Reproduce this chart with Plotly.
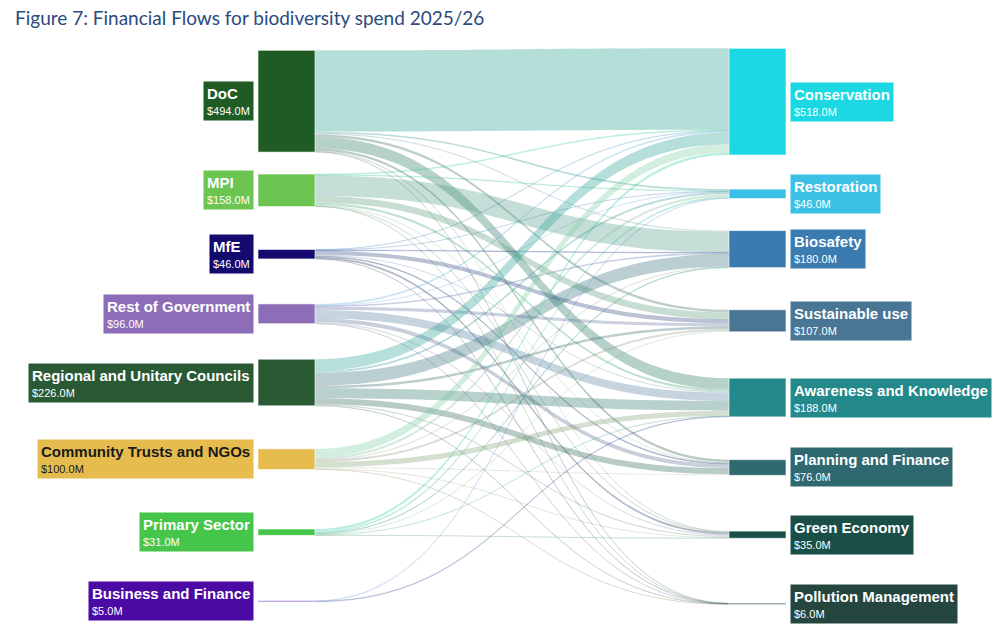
import plotly.graph_objects as go

# ---------------- data ----------------
sources = ["DoC", "MPI", "MfE", "Rest of Government", "Regional and Unitary Councils",
           "Community Trusts and NGOs", "Primary Sector", "Business and Finance"]
targets = ["Conservation", "Restoration", "Biosafety", "Sustainable use",
           "Awareness and Knowledge", "Planning and Finance", "Green Economy",
           "Pollution Management"]

# flows from each source to targets (same order as `targets`), $M
flow_doc       = [395, 8, 6, 12, 55, 12, 5, 1]
flow_mpi       = [4, 3, 100, 33, 10, 5, 2, 1]
flow_mfe       = [2, 1, 3, 20, 5, 4, 10, 1]
flow_rog       = [8, 2, 4, 15, 40, 20, 6, 1]
flow_regional  = [57, 10, 62, 12, 48, 30, 6, 1]
flow_community = [40, 12, 2, 10, 25, 5, 5, 1]
flow_primary   = [12, 8, 3, 5, 2, 0, 1, 0]
flow_business  = [0, 2, 0, 0, 3, 0, 0, 0]

flows = [flow_doc, flow_mpi, flow_mfe, flow_rog, flow_regional,
         flow_community, flow_primary, flow_business]

# ---------------- styles ----------------
source_colors = ["#1E5B25", "#6CC551", "#140A6E", "#8E6DB8", "#2A5A34",
                 "#E6BC4E", "#45C64A", "#4B0AA3"]
target_colors = ["#1CD8E2", "#3CC0E6", "#3A7BB0", "#4A7696", "#24898A",
                 "#2F6970", "#1A4F48", "#24463F"]
source_text_colors = ["white", "white", "white", "white", "white", "#1a1a1a", "white", "white"]

W, H = 998, 633
thickness = 57
left_cx, right_cx = 286.5, 757.5
left_cy = [101.2, 190.3, 254.2, 313.8, 382.5, 459.2, 532.2, 601.3]
right_cy = [101.7, 193.8, 249.1, 320.8, 397.5, 467.5, 534.7, 603.8]
gap = 4
LABEL_FONT = "Liberation Sans, Arial, Helvetica, sans-serif"


def hex_rgb(h):
    h = h.lstrip("#")
    return tuple(int(h[i:i + 2], 16) for i in (0, 2, 4))


def blend(c1, c2, a):
    r1, r2 = hex_rgb(c1), hex_rgb(c2)
    m = [int(0.45 * x + 0.55 * y) for x, y in zip(r1, r2)]
    return f"rgba({m[0]},{m[1]},{m[2]},{a})"


def link_alpha(v):
    if v >= 8:
        return 0.33
    if v >= 3:
        return 0.2
    return 0.13


n_s = len(sources)
link_s, link_t, link_v, link_c = [], [], [], []
for i, row in enumerate(flows):
    for j, v in enumerate(row):
        if v > 0:
            link_s.append(i)
            link_t.append(n_s + j)
            link_v.append(v)
            link_c.append(blend(source_colors[i], target_colors[j], link_alpha(v)))

src_tot = [sum(r) for r in flows]
tgt_tot = [sum(r[j] for r in flows) for j in range(len(targets))]

node_x = [left_cx / W] * n_s + [right_cx / W] * len(targets)
node_y = [y / H for y in left_cy] + [y / H for y in right_cy]

fig = go.Figure(go.Sankey(
    arrangement="fixed",
    domain=dict(x=[0, 1], y=[0, 1]),
    node=dict(
        label=[""] * (n_s + len(targets)),
        customdata=sources + targets,
        hovertemplate="%{customdata}: $%{value}M<extra></extra>",
        color=source_colors + target_colors,
        thickness=thickness,
        pad=56.4,
        x=node_x,
        y=node_y,
        line=dict(color="rgba(255,255,255,0.6)", width=1),
    ),
    link=dict(source=link_s, target=link_t, value=link_v, color=link_c,
              line=dict(width=0)),
))

annotations = []
for i, name in enumerate(sources):
    annotations.append(dict(
        x=(left_cx - thickness / 2 - gap) / W, y=1 - left_cy[i] / H,
        xref="paper", yref="paper", xanchor="right", yanchor="middle",
        text=f"<b><span style='font-size:15px'>{name}</span></b><br>"
             f"<span style='font-size:11px'>${src_tot[i]:.1f}M</span>",
        align="left", showarrow=False, bgcolor=source_colors[i], borderpad=3,
        font=dict(family=LABEL_FONT, size=12, color=source_text_colors[i]),
    ))
for j, name in enumerate(targets):
    annotations.append(dict(
        x=(right_cx + thickness / 2 + gap) / W, y=1 - right_cy[j] / H,
        xref="paper", yref="paper", xanchor="left", yanchor="middle",
        text=f"<b><span style='font-size:15px'>{name}</span></b><br>"
             f"<span style='font-size:11px'>${tgt_tot[j]:.1f}M</span>",
        align="left", showarrow=False, bgcolor=target_colors[j], borderpad=3,
        font=dict(family=LABEL_FONT, size=12, color="white"),
    ))

fig.update_layout(
    width=W, height=H,
    margin=dict(l=0, r=0, t=0, b=0),
    paper_bgcolor="white",
    font=dict(family=LABEL_FONT),
    title=dict(text="Figure 7: Financial Flows for biodiversity spend 2025/26",
               x=15 / W, xanchor="left", xref="container",
               y=1 - 18 / H, yanchor="middle", yref="container",
               font=dict(family="Lato, sans-serif", size=19, color="#2B4A7E")),
    annotations=annotations,
)

fig.write_html("out.html", config={"displayModeBar": False},
               post_script="document.body.style.margin='0';document.body.style.overflow='hidden';")
